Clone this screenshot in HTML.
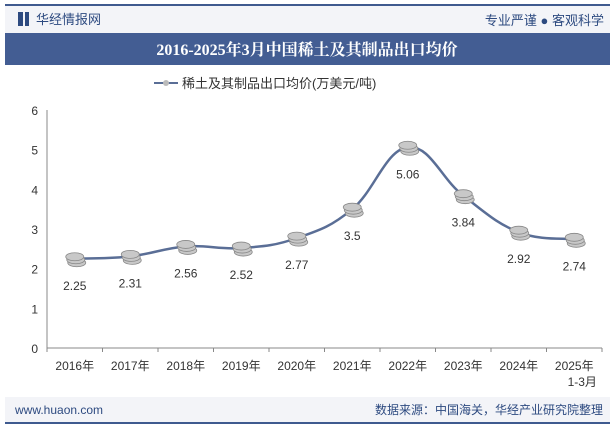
<!DOCTYPE html>
<html><head><meta charset="utf-8"><style>
body{margin:0;width:615px;height:427px;overflow:hidden;background:#fff;font-family:"Liberation Sans","Noto Sans CJK SC",sans-serif;}
</style></head><body>
<svg width="615" height="427" style="position:absolute;left:0;top:0">
<rect x="5" y="5" width="605" height="28" fill="#f3f4f8"/>
<rect x="5" y="4" width="605" height="2" fill="#3f5a8f"/>
<rect x="18" y="12" width="5" height="14" fill="#2d4a80"/>
<rect x="25" y="12" width="4" height="14" fill="#2d4a80"/>
<text x="36" y="24" font-size="13" fill="#2d4a80">华经情报网</text>
<text x="604" y="25" font-size="13" fill="#2d4a80" text-anchor="end">专业严谨 ● 客观科学</text>
<rect x="5" y="33" width="605" height="32" fill="#435d93"/>
<text x="307" y="55" font-size="16" font-weight="bold" fill="#fff" text-anchor="middle" font-family="Liberation Serif,Noto Serif CJK SC,serif">2016-2025年3月中国稀土及其制品出口均价</text>
<line x1="154" y1="83" x2="178" y2="83" stroke="#5a6e96" stroke-width="2"/>
<circle cx="166" cy="83" r="3" fill="#bbb"/>
<text x="182" y="88" font-size="13" fill="#333">稀土及其制品出口均价(万美元/吨)</text>
<g id="axes"></g>
<g id="plot"></g>
<rect x="5" y="397" width="605" height="26" fill="#f3f4f8"/>
<rect x="5" y="422" width="605" height="2" fill="#3f5a8f"/>
<text x="15" y="414" font-size="12" fill="#2d4a80">www.huaon.com</text>
<text x="603" y="414" font-size="12" fill="#2d4a80" text-anchor="end">数据来源：中国海关，华经产业研究院整理</text>
</svg>
<script>
const categories=["2016年","2017年","2018年","2019年","2020年","2021年","2022年","2023年","2024年","2025年"];
const values=[2.25,2.31,2.56,2.52,2.77,3.5,5.06,3.84,2.92,2.74];
const yTicks=[0,1,2,3,4,5,6];
const NS="http://www.w3.org/2000/svg";
const x0=47,x1=602,y0=348,y6=110;
const bw=(x1-x0)/categories.length;
const xs=i=>x0+bw*(i+0.5);
const ys=v=>y0-(y0-y6)*v/6;
function mk(t,a,p){const e=document.createElementNS(NS,t);for(const k in a)e.setAttribute(k,a[k]);p.appendChild(e);return e;}
const ax=document.getElementById('axes'),pl=document.getElementById('plot');
let l=mk('line',{x1:x0,y1:y0,x2:x1,y2:y0,stroke:'#888'},ax);


l=mk('line',{x1:x0,y1:y6,x2:x0,y2:y0,stroke:'#888'},ax);


yTicks.forEach(v=>{const t=mk('text',{x:38,y:ys(v)+5,'font-size':12,fill:'#333','text-anchor':'end'},ax);t.textContent=v;

});
for(let i=0;i<=categories.length;i++)mk('line',{x1:x0+bw*i,y1:y0,x2:x0+bw*i,y2:y0+4,stroke:'#888'},ax);
categories.forEach((c,i)=>{const t=mk('text',{x:xs(i),y:370,'font-size':12,fill:'#333','text-anchor':'middle'},ax);t.textContent=c;

});
const t2=mk('text',{x:xs(9)+8,y:386,'font-size':12,fill:'#333','text-anchor':'middle'},ax);t2.textContent="1-3月";


const P=values.map((v,i)=>[xs(i),ys(v)]);
let d=`M${P[0][0]},${P[0][1]}`;
for(let i=0;i<P.length-1;i++){const p0=P[i-1]||P[i],p1=P[i],p2=P[i+1],p3=P[i+2]||p2;const k=0.2;
d+=` C${p1[0]+(p2[0]-p0[0])*k},${p1[1]+(p2[1]-p0[1])*k} ${p2[0]-(p3[0]-p1[0])*k},${p2[1]-(p3[1]-p1[1])*k} ${p2[0]},${p2[1]}`;}
const path=mk('path',{d:d,fill:'none',stroke:'#5a6e96','stroke-width':2.5},pl);


P.forEach((p,i)=>{const g=mk('g',{},pl);


[6,3,0].forEach(o=>{mk('ellipse',{cx:p[0]+o/3,cy:p[1]+o-2,rx:9,ry:4,fill:'#c8c8c8',stroke:'#888','stroke-width':0.8},g);});
const t=mk('text',{x:p[0],y:p[1]+31,'font-size':12,fill:'#333','text-anchor':'middle'},pl);t.textContent=values[i];

});
</script>
</body></html>
